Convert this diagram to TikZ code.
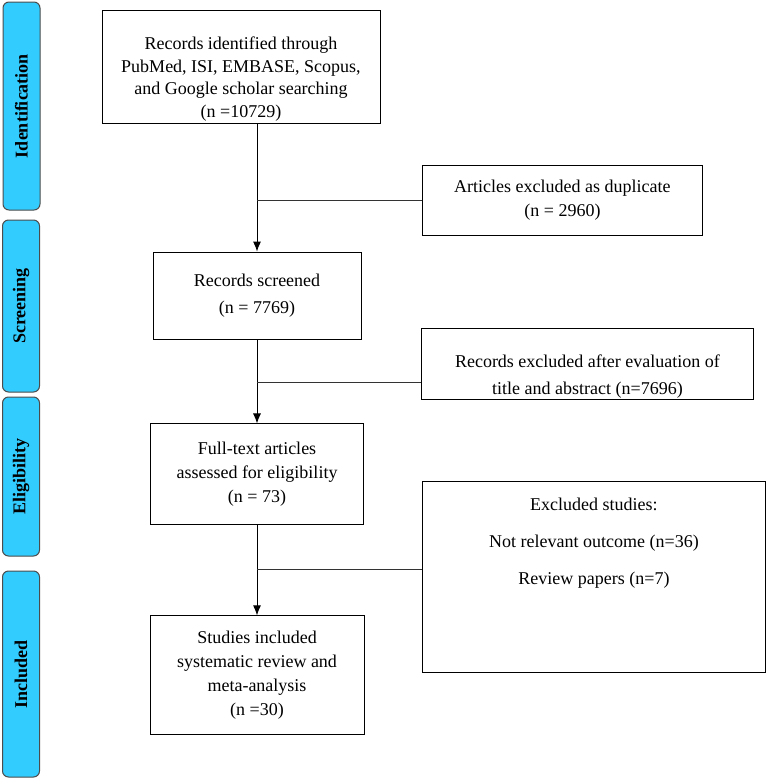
\documentclass[tikz,border=0pt]{standalone}
\usepackage{fontspec}
\setmainfont{Liberation Serif}
\usetikzlibrary{positioning,arrows.meta}

\definecolor{phasecyan}{RGB}{51,204,255}

\begin{document}
\begin{tikzpicture}[
  x=1pt, y=-1pt,
  font=\fontsize{18}{24}\selectfont,
  box/.style={draw, line width=0.9pt, align=center, inner sep=4pt},
  phase/.style={draw=black!70, line width=1pt, fill=phasecyan, rounded corners=6pt,
    rotate=90, minimum height=37pt, font=\fontsize{18}{22}\selectfont\bfseries},
  arr/.style={-{Latex[length=10pt,width=8pt]}, line width=0.9pt},
  link/.style={line width=0.9pt, black!80}
]
\useasboundingbox (0,0) rectangle (767,779);

% Etape
\node[phase, minimum width=208pt] (identbar) at (21.5,106) {Identification};
\node[phase, minimum width=172pt] (screenbar) at (21,306) {Screening};
\node[phase, minimum width=159pt] (eligbar) at (21,476.5) {Eligibility};
\node[phase, minimum width=206pt] (inclbar) at (21,674) {Included};

% Coloana principala
\node[box, minimum width=208pt, minimum height=87pt, font=\fontsize{18}{27}\selectfont] (scr) at (257,295.5)
  {Records screened\\(n = 7769)};
\node[box, minimum width=278pt, minimum height=111pt, above=128pt of scr, xshift=-16pt,
  inner sep=2pt, font=\fontsize{18}{22.5}\selectfont] (ident)
  {\parbox[c][105pt][b]{272pt}{\centering Records identified through\\PubMed, ISI, EMBASE, Scopus,\\
   and Google scholar searching\\(n =10729)}};
\node[box, minimum width=213pt, minimum height=101pt, below=84pt of scr] (full)
  {Full-text articles\\assessed for eligibility\\(n = 73)};
\node[box, minimum width=214pt, minimum height=119pt, below=90pt of full] (incl)
  {Studies included\\systematic review and\\meta-analysis\\(n =30)};

% Coloana excluderi
\node[box, minimum width=280pt, minimum height=70pt, anchor=west] (dup) at (422,200)
  {Articles excluded as duplicate\\(n = 2960)};
\node[box, minimum width=332pt, minimum height=70pt, anchor=west, inner sep=2pt,
  font=\fontsize{18}{27}\selectfont] (recx) at (421,364)
  {\parbox[c][64pt][b]{326pt}{\centering Records excluded after evaluation of\\title and abstract (n=7696)}};
\node[box, minimum width=343pt, minimum height=191pt, anchor=west, inner sep=0pt] (excl) at (422,576.5)
  {\parbox[t][156pt][t]{330pt}{\centering Excluded studies:\\[13pt]
   Not relevant outcome (n=36)\\[13pt] Review papers (n=7)}};

% Sageti verticale
\draw[arr] (ident.south -| scr.north) -- (scr.north);
\draw[arr] (scr.south) -- (scr.south |- full.north);
\draw[arr] (full.south) -- (full.south |- incl.north);

% Ramificatii catre excluderi
\draw[link] (scr.north |- dup.west) -- (dup.west);
\draw[link] ([yshift=-18pt]recx.west) -- ([yshift=-18pt]recx.west -| scr.south);
\draw[link] ([yshift=7.5pt]excl.west) -- ([yshift=7.5pt]excl.west -| full.south);

\end{tikzpicture}
\end{document}
